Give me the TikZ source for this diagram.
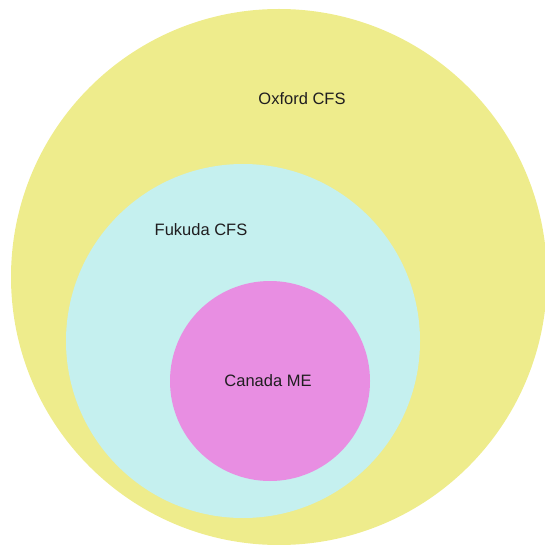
\documentclass[tikz,border=0pt]{standalone}
\usepackage{fontspec}
\setmainfont{Liberation Sans}
\usetikzlibrary{positioning}

\definecolor{oxfordyellow}{RGB}{238,236,140}
\definecolor{fukudacyan}{RGB}{197,240,239}
\definecolor{canadapink}{RGB}{232,142,226}
\definecolor{labeltext}{RGB}{32,30,32}

\begin{document}
\begin{tikzpicture}[
  x=1pt, y=-1pt,
  setcircle/.style={circle, draw=none, inner sep=0pt},
  setlabel/.style={text=labeltext, font=\fontsize{16.5}{18}\selectfont, inner sep=1pt}
]
\clip (0,0) rectangle (545,545);
\useasboundingbox (0,0) rectangle (545,545);

% Nested sets
\node[setcircle, fill=oxfordyellow, minimum size=536pt] (oxford) at (279,277) {};
\node[setcircle, fill=fukudacyan, minimum size=354pt] (fukuda) at (243,341) {};
\node[setcircle, fill=canadapink, minimum size=200pt] (canada) at (270,381) {};

% Labels
\node[setlabel] (oxfordlabel) at (302,99) {Oxford CFS};
\node[setlabel] (fukudalabel) at (201,230) {Fukuda CFS};
\node[setlabel] (canadalabel) at (268,381) {Canada ME};

\end{tikzpicture}
\end{document}
